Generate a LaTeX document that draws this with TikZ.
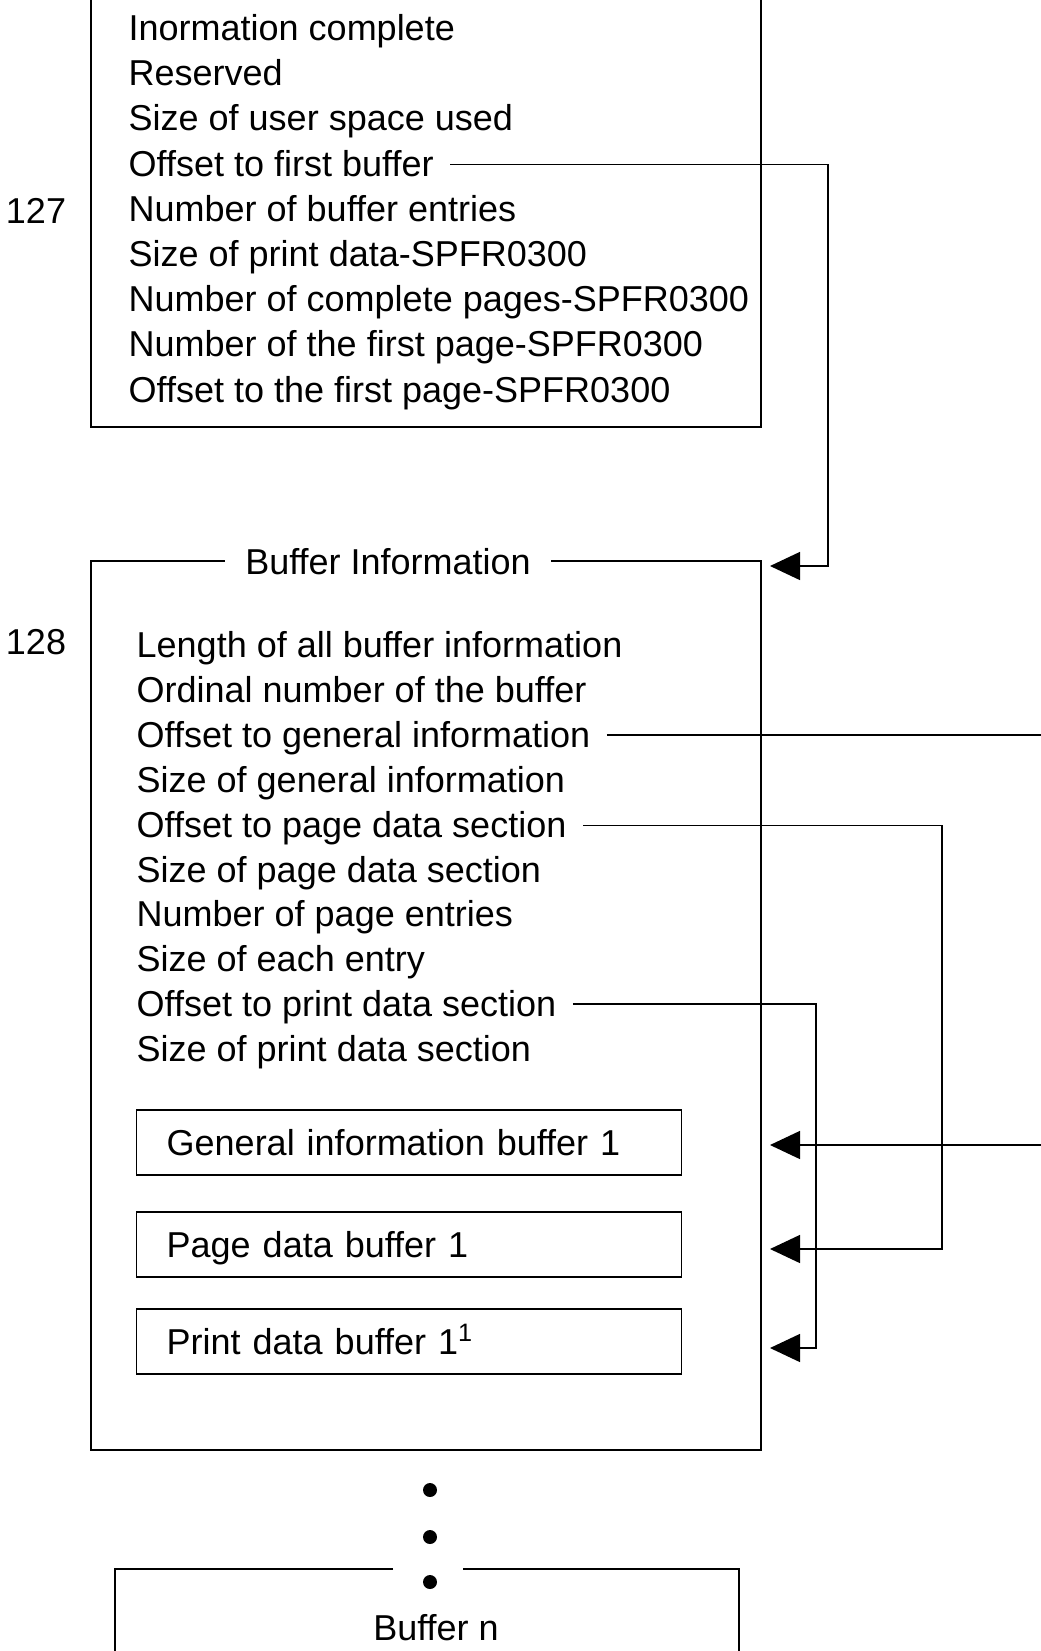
\documentclass[tikz,border=0pt]{standalone}
\usepackage{fontspec}
\setmainfont{Liberation Sans}
\usetikzlibrary{arrows.meta}

\tikzset{
  field/.style={anchor=west, inner sep=0pt, text height=15pt, text depth=3pt},
  subbuf/.style={draw, anchor=west, minimum height=32.5pt, text width=242.5pt,
    inner xsep=15pt, inner ysep=0pt, text height=15pt, text depth=2pt, align=left},
  link/.style={-{Triangle[length=15pt,width=14pt]}, shorten <=8pt},
  dot/.style={circle, fill, inner sep=0pt, minimum size=7pt}
}

\begin{document}
\begin{tikzpicture}[x=0.5pt, y=-0.5pt, line width=0.7pt, font=\fontsize{18}{22}\selectfont]
\useasboundingbox (0,0) rectangle (1040,1651);

% space header (top part cut off)
\draw (91,-40) rectangle (761,427);
\node[field] (fmt)  at (128,-14)   {Format of information};
\node[field] (cmp)  at (128,28.5)  {Inormation complete};
\node[field] (rsv)  at (128,73.7)  {Reserved};
\node[field] (usp)  at (128,118.9) {Size of user space used};
\node[field] (off1) at (128,164.5) {Offset to first buffer};
\node[field] (nbe)  at (128,209.3) {Number of buffer entries};
\node[field] (spd)  at (128,254.5) {Size of print data-SPFR0300};
\node[field] (ncp)  at (128,299.7) {Number of complete pages-SPFR0300};
\node[field] (nfp)  at (128,344.9) {Number of the first page-SPFR0300};
\node[field] (ofp)  at (128,390.1) {Offset to the first page-SPFR0300};
\node[field, anchor=center] (n127) at (36,211.3) {127};

% buffer 1
\draw (91,561) rectangle (761,1450);
\node[field, anchor=center, fill=white, inner xsep=10pt] (binfo) at (388,562.6) {Buffer Information};
\node[field, anchor=center] (n128) at (36,642) {128};
\node[field] (len)  at (136,645)  {Length of all buffer information};
\node[field] (ord)  at (136,690)  {Ordinal number of the buffer};
\node[field] (ogen) at (136,735)  {Offset to general information};
\node[field] (sgen) at (136,780)  {Size of general information};
\node[field] (opag) at (136,825.5) {Offset to page data section};
\node[field] (spag) at (136,870)  {Size of page data section};
\node[field] (npag) at (136,914.5) {Number of page entries};
\node[field] (sent) at (136,959)  {Size of each entry};
\node[field] (oprt) at (136,1004) {Offset to print data section};
\node[field] (sprt) at (136,1049) {Size of print data section};

\node[subbuf] (genbuf) at (136,1142.5) {General information buffer 1};
\node[subbuf] (pagbuf) at (136,1244.5) {Page data buffer 1};
\node[subbuf] (prtbuf) at (136,1341.5) {Print data buffer 1\textsuperscript{1}};

% arrow ends and routing columns
\coordinate (bufin) at (770,566);
\coordinate (genin) at (770,1145);
\coordinate (pagin) at (770,1249);
\coordinate (prtin) at (770,1348);
\coordinate (v1) at (828,0);
\coordinate (vg) at (1090,0);
\coordinate (vp) at (942,0);
\coordinate (vd) at (816,0);

\draw[link] (off1.east) -- (off1.east -| v1) |- (bufin);
\draw[link] (ogen.east) -- (ogen.east -| vg) |- (genin);
\draw[link] (opag.east) -- (opag.east -| vp) |- (pagin);
\draw[link] (oprt.east) -- (oprt.east -| vd) |- (prtin);

% more buffers
\node[dot] (d1) at (430,1490) {};
\node[dot] (d2) at (430,1537) {};
\node[dot] (d3) at (430,1582) {};
\draw (393,1569) -- (115,1569) -- (115,1700);
\draw (463,1569) -- (739,1569) -- (739,1700);
\node[field, anchor=center] (bufn) at (436,1628) {Buffer n};
\end{tikzpicture}
\end{document}
